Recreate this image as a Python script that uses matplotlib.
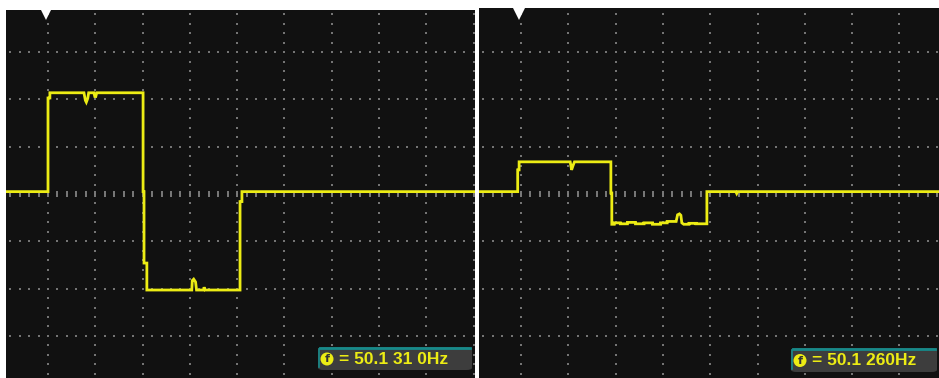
import numpy as np
import matplotlib.pyplot as plt
from matplotlib.patches import FancyBboxPatch, Ellipse

# Trace samples, in graticule divisions (x: time div from trigger, y: volts div from centre)
left_x = [-0.95, 0.00, 0.00, 0.04, 0.04, 0.76, 0.79, 0.81, 0.84, 0.86, 0.97, 0.99, 1.01,
          1.03, 2.01, 2.01, 2.03, 2.03, 2.09, 2.09, 3.04, 3.05, 3.08, 3.12, 3.14, 3.29,
          3.30, 3.32, 4.06, 4.06, 4.10, 4.10, 9.10]
left_y = [0.05, 0.05, 2.03, 2.03, 2.14, 2.14, 1.98, 1.94, 2.02, 2.14, 2.14, 2.06, 2.06,
          2.14, 2.14, 0.05, 0.05, -1.46, -1.46, -2.03, -2.03, -1.83, -1.80, -1.86, -2.03,
          -2.03, -1.97, -2.03, -2.03, -0.16, -0.16, 0.05, 0.05]

right_x = [-0.95, -0.07, -0.07, -0.04, -0.04, 1.04, 1.07, 1.10, 1.13, 1.90, 1.90, 1.92,
           1.92, 1.97, 1.97, 2.10, 2.10, 2.25, 2.25, 2.42, 2.42, 2.60, 2.60, 2.78, 2.78,
           2.95, 2.95, 3.09, 3.09, 3.28, 3.31, 3.35, 3.38, 3.40, 3.44, 3.55, 3.55, 3.70,
           3.70, 3.93, 3.93, 4.54, 4.56, 4.58, 8.90]
right_y = [0.05, 0.05, 0.51, 0.51, 0.68, 0.68, 0.51, 0.60, 0.68, 0.68, 0.02, 0.02,
           -0.64, -0.64, -0.61, -0.61, -0.63, -0.63, -0.60, -0.60, -0.63, -0.63, -0.61,
           -0.61, -0.64, -0.64, -0.61, -0.61, -0.58, -0.58, -0.44, -0.42, -0.45, -0.61,
           -0.64, -0.64, -0.62, -0.62, -0.63, -0.63, 0.05, 0.05, 0.01, 0.05, 0.05]

freq_labels = ["= 50.1 31 0Hz", "= 50.1 260Hz"]

W, H = 939, 378
DIV = 47.3          # pixels per division
TRACE = "#ecec14"
SCREEN = "#111111"


def fx(px):
    return px / W


def fy(py):
    return 1 - py / H


def make_screen(x0, x1, y0, y1, gx0, gy0):
    """Axes covering pixel box (x0..x1, y0..y1); gx0/gy0 = pixel of the 0 division."""
    ax = fig.add_axes([fx(x0), fy(y1), (x1 - x0) / W, (y1 - y0) / H])
    ax.set_facecolor(SCREEN)
    ax.set_xlim((x0 - gx0) / DIV, (x1 - gx0) / DIV)
    ax.set_ylim((gy0 - y1) / DIV, (gy0 - y0) / DIV)
    for s in ax.spines.values():
        s.set_visible(False)
    ax.set_xticks([])
    ax.set_yticks([])

    # dotted graticule, 5 dots per division
    fine = np.arange(-20, 60) * 0.2
    for k in range(-1, 10):
        ax.scatter(np.full(fine.size, k), fine, s=2.4, marker="s", color="#747474",
                   linewidths=0, zorder=1)
    for k in range(-4, 5):
        if k == 0:
            continue
        ax.scatter(fine, np.full(fine.size, k), s=2.4, marker="s", color="#747474",
                   linewidths=0, zorder=1)
    # centre line drawn as short ticks
    ax.scatter(fine, np.zeros(fine.size), s=16, marker="|", color="#7a7a7a",
               linewidths=1.4, zorder=1)
    return ax


fig = plt.figure(figsize=(W / 100, H / 100), dpi=100)
fig.patch.set_facecolor("white")

ax_l = make_screen(6, 475, 10, 378, 48, 194)
ax_r = make_screen(479, 939, 8, 378, 521, 194)

for ax, xs, ys in [(ax_l, left_x, left_y), (ax_r, right_x, right_y)]:
    ax.plot(xs, ys, color=TRACE, lw=2.0, solid_joinstyle="miter", zorder=3)

# trigger markers at the top
for tx in [46, 519]:
    fig.add_artist(plt.Line2D([fx(tx), fx(tx)], [fy(0), fy(12)], color="white", lw=1.5))
    fig.add_artist(plt.Line2D([fx(tx)], [fy(14)], marker="v", markersize=8,
                              color="white", markeredgewidth=0))

# frequency readouts
boxes = [(318, 472, 347, 370), (791, 937, 348, 372)]
for (bx0, bx1, by0, by1), label in zip(boxes, freq_labels):
    fig.add_artist(FancyBboxPatch((fx(bx0), fy(by1)), fx(bx1) - fx(bx0), fy(by0) - fy(by1),
                                  boxstyle="round,pad=0,rounding_size=0.006",
                                  facecolor="#3d3d3d", edgecolor="none",
                                  transform=fig.transFigure))
    fig.add_artist(plt.Line2D([fx(bx0 + 2), fx(bx1 - 2)], [fy(by0 + 1), fy(by0 + 1)],
                              color="#168a8a", lw=2))
    fig.add_artist(plt.Line2D([fx(bx0 + 1), fx(bx0 + 1)], [fy(by0 + 2), fy(by1 - 3)],
                              color="#168a8a", lw=1.2))
    cx, cy = bx0 + 9, (by0 + by1) / 2 + 0.5
    fig.add_artist(Ellipse((fx(cx), fy(cy)), 13 / W, 13 / H, facecolor=TRACE,
                           edgecolor="none", transform=fig.transFigure))
    fig.text(fx(cx), fy(cy), "f", color="#333333", fontsize=8, fontweight="bold",
             ha="center", va="center")
    fig.text(fx(cx + 12), fy(cy), label, color=TRACE, fontsize=12.5,
             ha="left", va="center", fontweight="bold", family="Liberation Sans")

fig.savefig("out.png", dpi=100, facecolor="white")
